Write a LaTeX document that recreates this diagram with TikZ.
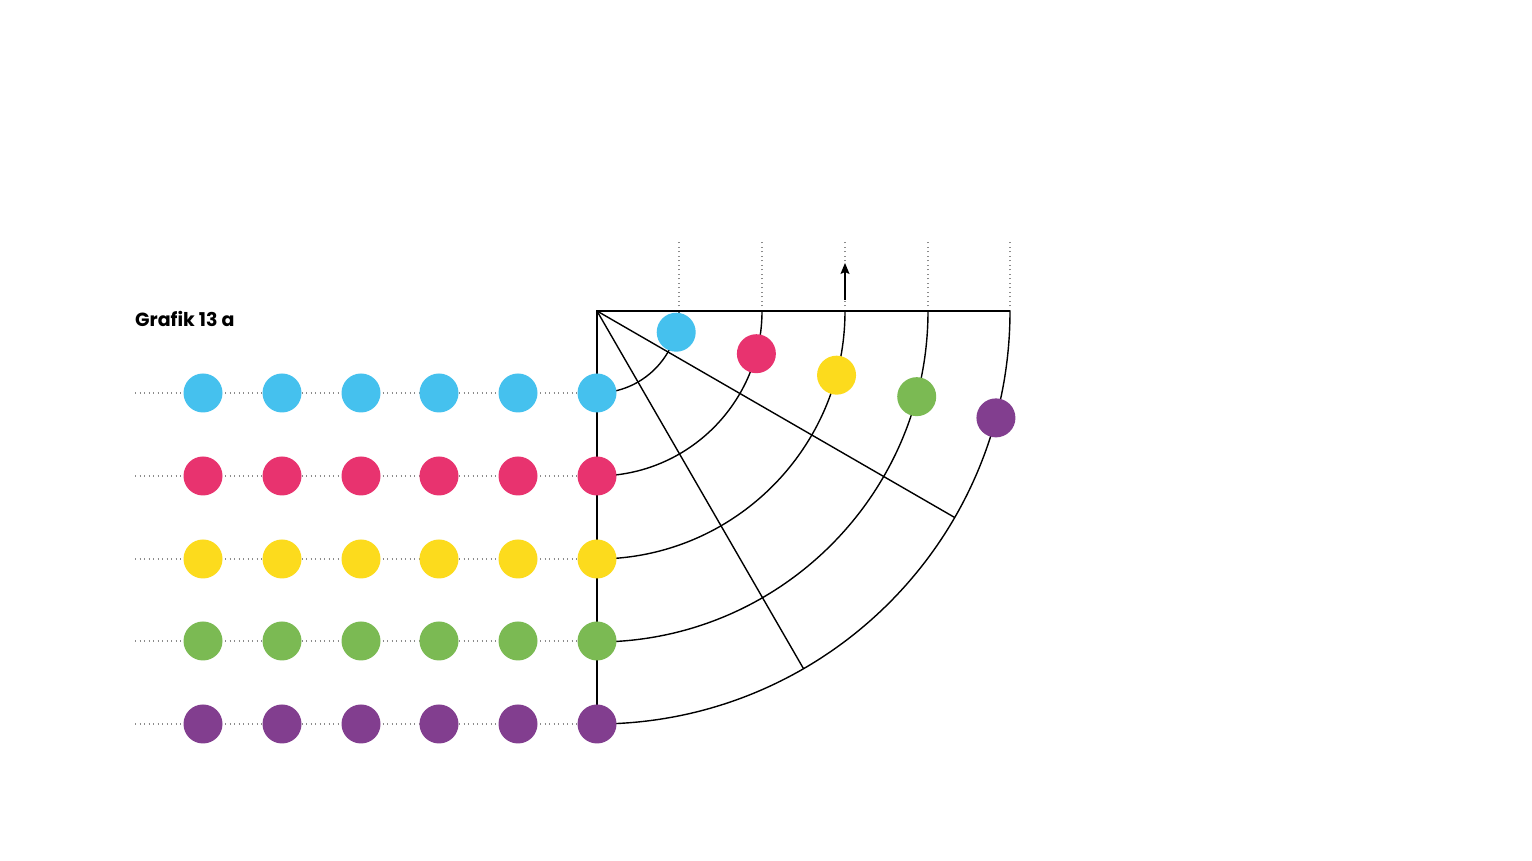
\documentclass[tikz,border=0pt]{standalone}
\usepackage{fontspec}
\setmainfont{Poppins}
\usetikzlibrary{arrows.meta,calc}
\definecolor{cblue}{RGB}{69,193,238}
\definecolor{cred}{RGB}{232,51,111}
\definecolor{cyellow}{RGB}{252,219,29}
\definecolor{cgreen}{RGB}{123,186,83}
\definecolor{cpurple}{RGB}{130,62,143}
\begin{document}
\begin{tikzpicture}[x=1pt,y=1pt,
  dotnode/.style={circle,fill=#1,draw=none,minimum size=39pt,inner sep=0pt},
  guide/.style={draw=gray!90,line width=1.3pt,dash pattern=on 1.3pt off 3.2pt},
  solid line/.style={line width=1.4pt,black}]
\useasboundingbox[fill=white] (0,0) rectangle (1532,861);
\coordinate (O) at (597,550);
% horizontal guides
\foreach \y/\n in {468/1,385/2,302/3,220/4,137/5}{
  \coordinate (L\n) at (135,\y);
  \coordinate (R\n) at (597,\y);
  \draw[guide] (L\n) -- (R\n);
}
% vertical guides
\foreach \x/\n in {679/1,762/2,845/3,928/4,1010/5}{
  \coordinate (VB\n) at (\x,550);
  \coordinate (VT\n) at (\x,620);
  \draw[guide] (VB\n) -- (VT\n);
}
% structure
\coordinate (TE) at (1010,550);
\coordinate (BE) at (597,137);
\draw[solid line] (BE) -- (O) -- (TE);
\draw[solid line] (O) -- ++(-30:413) coordinate (D1);
\draw[solid line] (O) -- ++(-60:413) coordinate (D2);
\foreach \r in {82,165,248,331,413}{
  \draw[solid line] ($(O)+(\r,0)$) arc[start angle=0,end angle=-90,radius=\r];
}
% arrow
\coordinate (A0) at (845,561);
\coordinate (A1) at (845,598);
\draw[line width=1.4pt,-{Stealth[length=11pt,width=9pt,inset=2pt]}] (A0) -- (A1);
% dots
\foreach \c/\y/\n in {cblue/468/1,cred/385/2,cyellow/302/3,cgreen/220/4,cpurple/137/5}{
  \foreach \x/\m in {203/1,282/2,361/3,439/4,518/5,597/6}{
    \node[dotnode=\c] (d\n\m) at (\x,\y) {};
  }
}
\foreach \c/\r/\n in {cblue/82/1,cred/165/2,cyellow/248/3,cgreen/331/4,cpurple/413/5}{
  \node[dotnode=\c] (a\n) at ($(O)+(-15:\r)$) {};
}
\node[anchor=base west,font=\bfseries\fontsize{19}{22}\selectfont,inner sep=0pt] (title) at (135,534) {Grafik 13 a};
\end{tikzpicture}
\end{document}
